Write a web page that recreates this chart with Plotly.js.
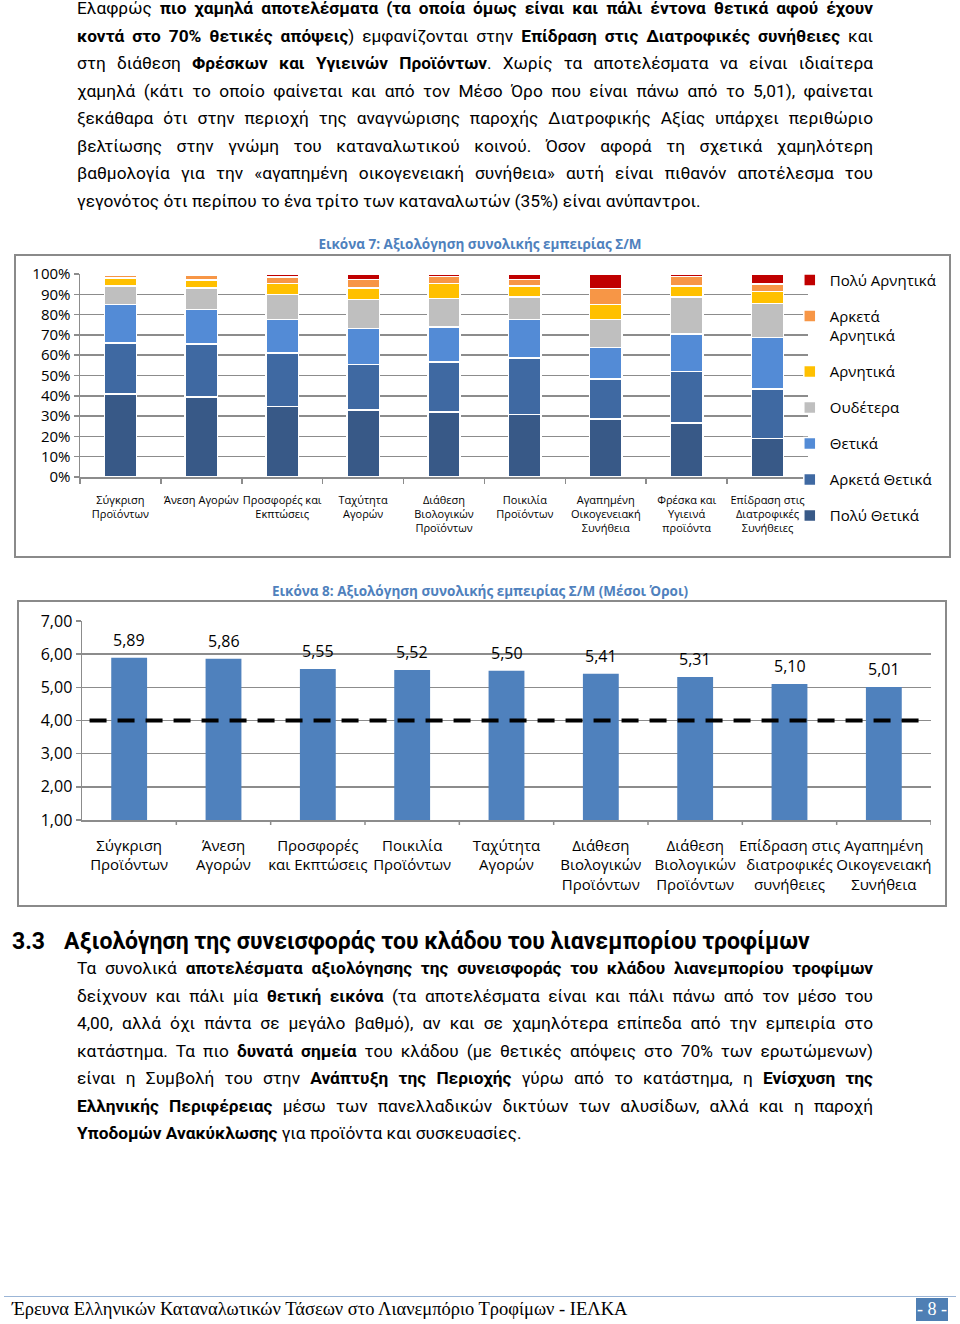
<!DOCTYPE html>
<html>
<head>
<meta charset="utf-8">
<script src="https://cdn.plot.ly/plotly-3.0.1.min.js"></script>
<style>
html,body{margin:0;padding:0;background:#fff;}
body{width:960px;height:1324px;position:relative;overflow:hidden;font-family:Roboto,"Open Sans",sans-serif;color:#000;}
.para{position:absolute;left:77px;width:796px;font-size:17.3px;line-height:27.5px;}
.para div{white-space:nowrap;text-align:justify;text-align-last:justify;}
.para div.last{text-align-last:left;}
.box{position:absolute;border:2px solid #8a8a8a;box-sizing:border-box;pointer-events:none;}
#c1,#c2{position:absolute;left:0;width:960px;}
h2{position:absolute;margin:0;left:12px;top:928px;font-size:23px;font-weight:bold;line-height:28px;white-space:nowrap;}
h2 span{display:inline-block;width:52px;}
#footline{position:absolute;left:4px;width:952px;top:1296px;height:0;border-top:1.5px solid #9bb5d6;}
#foot{position:absolute;left:12px;top:1298px;font-family:"Liberation Serif","DejaVu Serif",serif;font-size:18.5px;line-height:22px;white-space:nowrap;}
#pnum{position:absolute;left:916px;top:1298px;width:32px;height:23px;background:#4f7fb4;color:#fff;font-family:"Liberation Serif",serif;font-size:18px;line-height:23px;text-align:center;}
</style>
</head>
<body>
<div class="para" style="top:-5px">
<div>Ελαφρώς <b>πιο χαμηλά αποτελέσματα (τα οποία όμως είναι και πάλι έντονα θετικά αφού έχουν</b></div>
<div><b>κοντά στο 70% θετικές απόψεις</b>) εμφανίζονται στην <b>Επίδραση στις Διατροφικές συνήθειες</b> και</div>
<div>στη διάθεση <b>Φρέσκων και Υγιεινών Προϊόντων</b>. Χωρίς τα αποτελέσματα να είναι ιδιαίτερα</div>
<div>χαμηλά (κάτι το οποίο φαίνεται και από τον Μέσο Όρο που είναι πάνω από το 5,01), φαίνεται</div>
<div>ξεκάθαρα ότι στην περιοχή της αναγνώρισης παροχής Διατροφικής Αξίας υπάρχει περιθώριο</div>
<div>βελτίωσης στην γνώμη του καταναλωτικού κοινού. Όσον αφορά τη σχετικά χαμηλότερη</div>
<div>βαθμολογία για την «αγαπημένη οικογενειακή συνήθεια» αυτή είναι πιθανόν αποτέλεσμα του</div>
<div class="last">γεγονότος ότι περίπου το ένα τρίτο των καταναλωτών (35%) είναι ανύπαντροι.</div>
</div>

<div id="c1" style="top:232px;height:325px"></div>
<div class="box" style="left:14px;top:254px;width:937px;height:304px"></div>

<div id="c2" style="top:579px;height:327px"></div>
<div class="box" style="left:17px;top:600px;width:930px;height:307px"></div>

<h2><span>3.3</span>Αξιολόγηση της συνεισφοράς του κλάδου του λιανεμπορίου τροφίμων</h2>

<div class="para" style="top:955px">
<div>Τα συνολικά <b>αποτελέσματα αξιολόγησης της συνεισφοράς του κλάδου λιανεμπορίου τροφίμων</b></div>
<div>δείχνουν και πάλι μία <b>θετική εικόνα</b> (τα αποτελέσματα είναι και πάλι πάνω από τον μέσο του</div>
<div>4,00, αλλά όχι πάντα σε μεγάλο βαθμό), αν και σε χαμηλότερα επίπεδα από την εμπειρία στο</div>
<div>κατάστημα. Τα πιο <b>δυνατά σημεία</b> του κλάδου (με θετικές απόψεις στο 70% των ερωτώμενων)</div>
<div>είναι η Συμβολή του στην <b>Ανάπτυξη της Περιοχής</b> γύρω από το κατάστημα, η <b>Ενίσχυση της</b></div>
<div><b>Ελληνικής Περιφέρειας</b> μέσω των πανελλαδικών δικτύων των αλυσίδων, αλλά και η παροχή</div>
<div class="last"><b>Υποδομών Ανακύκλωσης</b> για προϊόντα και συσκευασίες.</div>
</div>

<div id="footline"></div>
<div id="foot">Έρευνα Ελληνικών Καταναλωτικών Τάσεων στο Λιανεμπόριο Τροφίμων - ΙΕΛΚΑ</div>
<div id="pnum">- 8 -</div>

<script>
// ---------- Chart 1 data (Εικόνα 7) ----------
const cats1 = [
  "Σύγκριση<br>Προϊόντων",
  "Άνεση Αγορών",
  "Προσφορές και<br>Εκπτώσεις",
  "Ταχύτητα<br>Αγορών",
  "Διάθεση<br>Βιολογικών<br>Προϊόντων",
  "Ποικιλία<br>Προϊόντων",
  "Αγαπημένη<br>Οικογενειακή<br>Συνήθεια",
  "Φρέσκα και<br>Υγιεινά<br>προϊόντα",
  "Επίδραση στις<br>Διατροφικές<br>Συνήθειες"
];
const polyThetika    = [41.0, 39.5, 34.8, 33.1, 31.6, 30.8, 28.5, 26.5, 19.1];
const arketaThetika  = [25.0, 26.0, 26.4, 22.4, 24.4, 27.8, 19.9, 25.2, 24.2];
const thetika        = [19.0, 17.0, 16.5, 17.6, 17.1, 18.9, 15.5, 18.6, 25.5];
const oudetera       = [ 9.0, 10.7, 12.4, 14.3, 14.0, 11.2, 13.7, 18.0, 16.8];
const arnitika       = [ 4.0,  3.8,  5.4,  5.6,  7.2,  5.4,  7.4,  5.6,  5.8];
const arketaArnitika = [ 1.5,  2.2,  3.1,  4.4,  3.5,  3.3,  7.9,  4.6,  3.8];
const polyArnitika   = [ 0.5,  0.8,  1.6,  2.6,  1.2,  2.6,  7.2,  1.2,  4.9];
const seriesNames1 = ["Πολύ Θετικά","Αρκετά Θετικά","Θετικά","Ουδέτερα","Αρνητικά","Αρκετά<br>Αρνητικά","Πολύ Αρνητικά"];
const seriesVals1  = [polyThetika, arketaThetika, thetika, oudetera, arnitika, arketaArnitika, polyArnitika];
const seriesCols1  = ["#385987","#3f69a2","#538bd6","#bfbfbf","#ffc000","#f79646","#c00000"];

// ---------- Chart 2 data (Εικόνα 8) ----------
const cats2 = [
  "Σύγκριση<br>Προϊόντων",
  "Άνεση<br>Αγορών",
  "Προσφορές<br>και Εκπτώσεις",
  "Ποικιλία<br>Προϊόντων",
  "Ταχύτητα<br>Αγορών",
  "Διάθεση<br>Βιολογικών<br>Προϊόντων",
  "Διάθεση<br>Βιολογικών<br>Προϊόντων",
  "Επίδραση στις<br>διατροφικές<br>συνήθειες",
  "Αγαπημένη<br>Οικογενειακή<br>Συνήθεια"
];
const means2 = [5.89, 5.86, 5.55, 5.52, 5.50, 5.41, 5.31, 5.10, 5.01];
const benchmark = 4.00;

const chartFont = '"Open Sans", Roboto, sans-serif';
const gridCol = "#8c8c8c";

// ---------- Chart 1 ----------
const nS = seriesVals1.length;
const traces1 = seriesVals1.map((vals, i) => ({
  type: "bar",
  name: seriesNames1[i],
  x: cats1,
  y: vals,
  legendgroup: "g" + i,
  legendrank: nS - i,
  marker: {color: seriesCols1[i], line: {color: "#ffffff", width: 1.5}},
  hoverinfo: "skip"
}));
Plotly.newPlot("c1", traces1, {
  width: 960, height: 325,
  margin: {l: 80, r: 152, t: 42, b: 80},
  paper_bgcolor: "rgba(0,0,0,0)", plot_bgcolor: "#fff",
  barmode: "stack", barnorm: "fraction", bargap: 0.6,
  font: {family: chartFont, color: "#000"},
  title: {text: "Εικόνα 7: Αξιολόγηση συνολικής εμπειρίας Σ/Μ", font: {family: chartFont, size: 13.5, color: "#4f81bd", weight: "bold"},
          x: 0.5, xanchor: "center", xref: "container", y: 1 - 12/325, yanchor: "middle", yref: "container"},
  xaxis: {type: "category", showgrid: false, showline: true, linecolor: gridCol, linewidth: 1.5,
          ticks: "outside", tickson: "boundaries", ticklen: 5, tickcolor: gridCol, tickwidth: 1.5,
          tickangle: 0, automargin: false,
          tickfont: {size: 11}, ticklabelstandoff: 12, fixedrange: true},
  yaxis: {range: [0, 1], dtick: 0.1, tickformat: ".0%", showgrid: true, gridcolor: gridCol, gridwidth: 1.5,
          showline: true, linecolor: gridCol, linewidth: 1.5, ticks: "outside", ticklen: 5, tickcolor: gridCol,
          tickwidth: 1.5, tickfont: {size: 15}, zeroline: false, fixedrange: true, automargin: false},
  legend: {x: 0.975, xanchor: "left", y: 1.05, yanchor: "top", traceorder: "grouped",
           tracegroupgap: 13.5, font: {size: 15}, bgcolor: "rgba(0,0,0,0)", valign: "top", itemwidth: 30,
           maxheight: 600},
  showlegend: true
}, {staticPlot: true});

// ---------- Chart 2 ----------
const idx2 = cats2.map((c, i) => i);
const anns2 = means2.map((v, i) => ({
  x: i, y: v, xref: "x", yref: "y", text: v.toFixed(2).replace(".", ","),
  showarrow: false, yanchor: "bottom", yshift: 5, font: {size: 16, family: chartFont, color: "#000"}
}));
Plotly.newPlot("c2", [{
  type: "bar", x: idx2, y: means2, width: 0.38,
  marker: {color: "#4f81bd"}, hoverinfo: "skip", showlegend: false
}], {
  width: 960, height: 327,
  margin: {l: 82, r: 29, t: 42, b: 86},
  paper_bgcolor: "rgba(0,0,0,0)", plot_bgcolor: "#fff",
  separators: ",.",
  font: {family: chartFont, color: "#000"},
  title: {text: "Εικόνα 8: Αξιολόγηση συνολικής εμπειρίας Σ/Μ (Μέσοι Όροι)", font: {family: chartFont, size: 13.5, color: "#4f81bd", weight: "bold"},
          x: 0.5, xanchor: "center", xref: "container", y: 1 - 12/327, yanchor: "middle", yref: "container"},
  xaxis: {range: [-0.5, cats2.length - 0.5], tickvals: idx2, ticktext: cats2, showgrid: false,
          showline: true, linecolor: gridCol, linewidth: 1.5, ticks: "", tickfont: {size: 15},
          tickangle: 0, automargin: false,
          ticklabelstandoff: 11, zeroline: false, fixedrange: true},
  yaxis: {range: [1, 7], dtick: 1, tickformat: ".2f", showgrid: true, gridcolor: gridCol, gridwidth: 1.5,
          showline: true, linecolor: gridCol, linewidth: 1.5, ticks: "outside", ticklen: 5, tickcolor: gridCol,
          tickwidth: 1.5, tickfont: {size: 16}, zeroline: false, fixedrange: true, automargin: false},
  shapes: [
    {type: "line", xref: "x", yref: "y", x0: -0.42, x1: cats2.length - 0.58, y0: benchmark, y1: benchmark,
     line: {color: "#000", width: 4, dash: "17px,11px"}},
  ].concat(idx2.slice(1).concat([cats2.length]).map(i => ({
     type: "line", xref: "x", yref: "paper", x0: i - 0.5, x1: i - 0.5, y0: 0, y1: -0.025,
     line: {color: gridCol, width: 1.5}}))),
  annotations: anns2
}, {staticPlot: true});
</script>
</body>
</html>
